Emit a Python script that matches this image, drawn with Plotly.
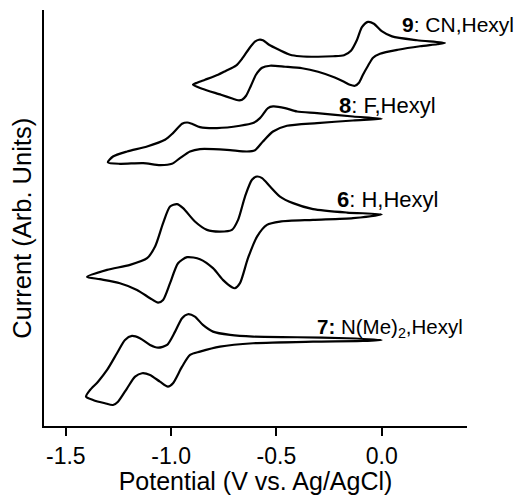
import plotly.graph_objects as go

# Potential (V vs. Ag/AgCl) and current (arbitrary units)
# Compound 9: CN,Hexyl
E9 = [0.30, 0.168, 0.049, 0.00, -0.037, -0.065, -0.094, -0.117, -0.146, -0.179, -0.231, -0.302,
      -0.388, -0.435, -0.488, -0.535, -0.564, -0.583, -0.602, -0.630, -0.663, -0.692, -0.739,
      -0.777, -0.839, -0.877, -0.896,
      -0.853, -0.763, -0.706, -0.682, -0.663, -0.644, -0.621, -0.597, -0.568, -0.530, -0.459,
      -0.378, -0.302, -0.226, -0.179, -0.151, -0.127, -0.108, -0.089, -0.065, -0.041, -0.008,
      0.077, 0.182, 0.263, 0.30]
I9 = [382.7, 385.5, 389.3, 394.5, 402.0, 403.8, 398.5, 386.0, 375.0, 370.5, 369.5, 369.0,
      369.5, 371.0, 376.0, 381.0, 385.5, 386.0, 384.0, 377.0, 367.0, 360.0, 355.0,
      351.0, 346.0, 343.0, 341.0,
      337.0, 331.0, 327.0, 325.5, 326.0, 330.0, 340.0, 351.0, 358.0, 360.0, 359.0,
      357.5, 354.0, 348.5, 344.0, 341.0, 340.0, 343.0, 351.0, 360.0, 368.0, 372.0,
      376.0, 379.5, 381.5, 382.7]

# Compound 8: F,Hexyl
E8 = [0.0, -0.136, -0.307, -0.402, -0.459, -0.516, -0.540, -0.578, -0.611, -0.673, -0.782,
      -0.863, -0.901, -0.924, -0.948, -0.991, -1.029, -1.114, -1.209, -1.276, -1.300,
      -1.243, -1.133, -1.053, -0.996, -0.958, -0.910, -0.863, -0.735, -0.640, -0.602,
      -0.564, -0.516, -0.450, -0.307, -0.136, 0.0]
I8 = [307.0, 309.3, 312.7, 314.3, 317.7, 319.3, 317.7, 307.7, 302.7, 300.0, 297.7,
      298.7, 302.0, 303.3, 302.0, 292.7, 286.0, 279.3, 274.3, 269.3, 263.5,
      262.0, 262.7, 260.7, 262.0, 267.7, 274.3, 276.7, 276.0, 274.3, 275.5,
      284.3, 294.3, 300.0, 302.7, 305.3, 307.0]

# Compound 6: H,Hexyl
E6 = [0.0, -0.165, -0.326, -0.421, -0.483, -0.530, -0.568, -0.592, -0.616, -0.649, -0.682,
      -0.711, -0.768, -0.830, -0.887, -0.943, -0.972, -1.005, -1.038, -1.076, -1.114,
      -1.195, -1.304, -1.399,
      -1.338, -1.243, -1.162, -1.100, -1.062, -1.038, -1.005, -0.967, -0.924, -0.863,
      -0.801, -0.754, -0.711, -0.697, -0.673, -0.635, -0.592, -0.545, -0.483, -0.326,
      -0.136, 0.0]
I6 = [211.5, 213.3, 216.7, 222.7, 229.3, 239.3, 247.7, 249.3, 246.0, 229.3, 206.0,
      196.0, 194.3, 196.0, 204.3, 217.7, 221.7, 219.3, 202.7, 179.3, 167.7,
      161.0, 156.0, 149.0,
      146.7, 142.7, 136.0, 127.7, 123.3, 126.0, 142.7, 162.7, 168.7, 166.7,
      157.7, 146.0, 138.7, 137.7, 142.7, 167.7, 189.3, 201.0, 204.3, 206.0,
      207.7, 211.5]

# Compound 7: N(Me)2,Hexyl
E7 = [0.0, -0.165, -0.402, -0.611, -0.720, -0.801, -0.849, -0.887, -0.920, -0.948, -0.981,
      -1.019, -1.062, -1.100, -1.148, -1.186, -1.219, -1.257, -1.304, -1.347, -1.385, -1.404,
      -1.371, -1.314, -1.276, -1.252, -1.209, -1.171, -1.138, -1.100, -1.053, -1.015,
      -0.991, -0.948, -0.910, -0.863, -0.768, -0.611, -0.326, -0.089, 0.0]
I7 = [86.0, 87.7, 88.7, 89.3, 91.0, 94.3, 101.0, 109.3, 111.7, 107.7, 94.3,
      81.0, 78.3, 81.0, 87.7, 90.0, 86.0, 72.7, 56.0, 44.3, 36.0, 29.3,
      26.0, 22.7, 21.0, 24.3, 37.7, 49.3, 52.7, 51.0, 44.3, 39.3,
      42.7, 59.3, 71.0, 74.3, 79.3, 82.7, 84.3, 85.0, 86.0]

tick_vals = [-1.5, -1.0, -0.5, 0.0]
tick_text = ["-1.5", "-1.0", "-0.5", "0.0"]

curves = [("9", E9, I9), ("8", E8, I8), ("6", E6, I6), ("7", E7, I7)]

fig = go.Figure()
for name, ex, iy in curves:
    fig.add_trace(go.Scatter(
        x=ex, y=iy, mode="lines", name=name, showlegend=False,
        line=dict(color="black", width=2.2, shape="spline", smoothing=0.7),
    ))

FONT = "Liberation Sans, Arial, sans-serif"
labels = [
    (0.087, 401, "<b>9</b>: CN,Hexyl", 21),
    (-0.212, 320, "<b>8</b>: F,Hexyl", 22),
    (-0.222, 226, "<b>6</b>: H,Hexyl", 22),
    (-0.317, 98, "<b>7:</b> N(Me)<sub>2</sub>,Hexyl", 20.5),
]
for lx, ly, txt, fs in labels:
    fig.add_annotation(x=lx, y=ly, xref="x", yref="y", text=txt, showarrow=False,
                       xanchor="left", yanchor="middle",
                       font=dict(family=FONT, size=fs, color="black"))

# y-axis title
fig.add_annotation(x=-0.052, y=197, xref="paper", yref="y", text="Current (Arb. Units)",
                   showarrow=False, textangle=-90, xanchor="center", yanchor="middle",
                   font=dict(family=FONT, size=25.5, color="black"))

fig.update_layout(
    width=518, height=495,
    margin=dict(l=44, r=51, t=10, b=69),
    plot_bgcolor="white", paper_bgcolor="white",
    font=dict(family=FONT, color="black"),
    xaxis=dict(
        range=[-1.6035, 0.405], tickvals=tick_vals, ticktext=tick_text,
        ticks="outside", ticklen=8, tickwidth=2, tickcolor="black",
        showline=True, linewidth=2, linecolor="black",
        showgrid=False, zeroline=False,
        tickfont=dict(family=FONT, size=23, color="black"),
        title=dict(text="Potential (V vs. Ag/AgCl)", standoff=8,
                   font=dict(family=FONT, size=25, color="black")),
        automargin=False,
    ),
    yaxis=dict(
        range=[0, 415.7], showticklabels=False, ticks="",
        showline=True, linewidth=2, linecolor="black",
        showgrid=False, zeroline=False, automargin=False,
    ),
)

fig.write_html("out.html")
